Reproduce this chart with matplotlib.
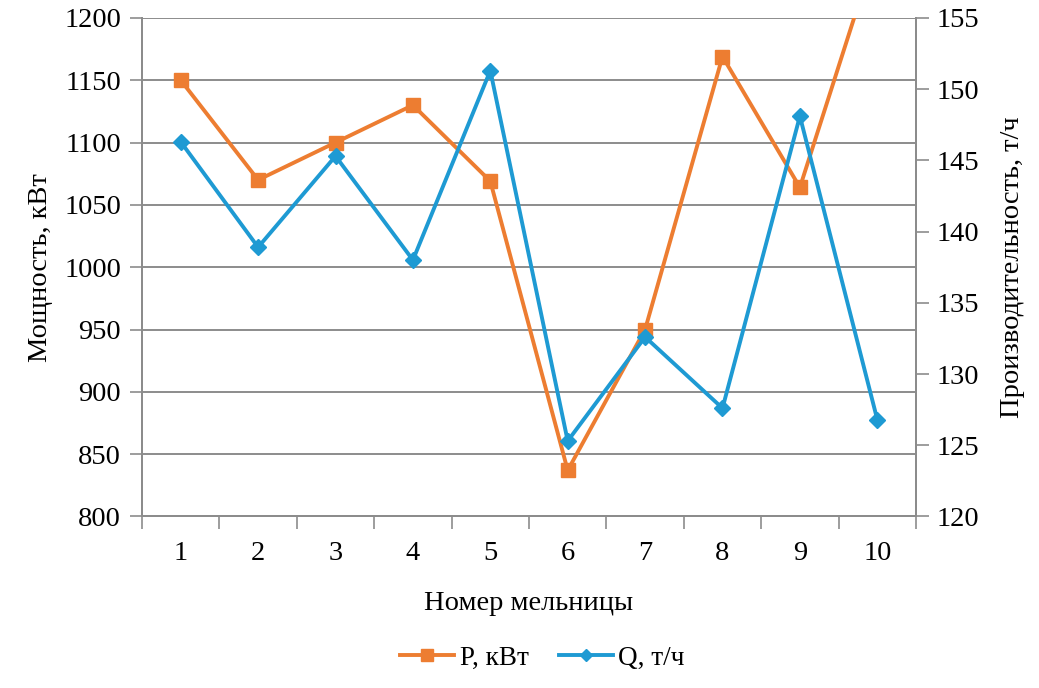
import numpy as np
import matplotlib.pyplot as plt
from matplotlib.ticker import FixedLocator, MultipleLocator

plt.rcParams['font.family'] = ['Liberation Serif', 'DejaVu Serif']

# Data
mills = [1, 2, 3, 4, 5, 6, 7, 8, 9, 10]
power_kw = [1150, 1070, 1100, 1130, 1069, 837, 950, 1169, 1064, 1258]
output_th = [146.3, 138.9, 145.3, 138.0, 151.3, 125.3, 132.6, 127.6, 148.1, 126.8]

orange = '#ED7D31'
blue = '#1E9AD3'
grid_grey = '#8c8c8c'
fs = 20.5

fig = plt.figure(figsize=(10.39, 6.88), dpi=100)
ax = fig.add_axes([0.1367, 0.2493, 0.8816 - 0.1367, 0.974 - 0.2493])
ax2 = ax.twinx()

ax.plot(mills, power_kw, color=orange, lw=2.8, marker='s', ms=10,
        label='P, кВт', zorder=3)
ax2.plot(mills, output_th, color=blue, lw=2.8, marker='D', ms=8,
         label='Q, т/ч', zorder=3)

# left axis
ax.set_ylim(800, 1200)
ax.yaxis.set_major_locator(MultipleLocator(50))
ax.grid(axis='y', color=grid_grey, lw=1.4)
ax.set_axisbelow(True)
ax.set_ylabel('Мощность, кВт', fontsize=fs, labelpad=8)

# right axis
ax2.set_ylim(120, 155)
ax2.yaxis.set_major_locator(MultipleLocator(5))
ax2.set_ylabel('Производительность, т/ч', fontsize=fs, labelpad=15)

# x axis: labels at categories, tick marks between them
ax.set_xlim(0.5, 10.5)
ax.xaxis.set_major_locator(FixedLocator(mills))
ax.xaxis.set_minor_locator(FixedLocator(np.arange(0.5, 11, 1)))
ax.tick_params(axis='x', which='major', length=0, pad=18)
ax.tick_params(axis='x', which='minor', length=9, width=1.2, color=grid_grey)
ax.set_xlabel('Номер мельницы', fontsize=fs, labelpad=18)

for a in (ax, ax2):
    a.tick_params(axis='y', length=9, width=1.2, color=grid_grey, labelsize=fs, pad=6)
    a.tick_params(axis='x', labelsize=fs)
    for side, sp in a.spines.items():
        sp.set_color(grid_grey)
        sp.set_linewidth(1.4)
    a.spines['top'].set_visible(False)

h1, l1 = ax.get_legend_handles_labels()
h2, l2 = ax2.get_legend_handles_labels()
fig.legend(h1 + h2, l1 + l2, loc='center', bbox_to_anchor=(0.522, 0.043),
           ncol=2, frameon=False, fontsize=19.5, handlelength=2.0,
           handletextpad=0.2, columnspacing=1.1, markerscale=0.8)

fig.savefig('out.png', dpi=100)
